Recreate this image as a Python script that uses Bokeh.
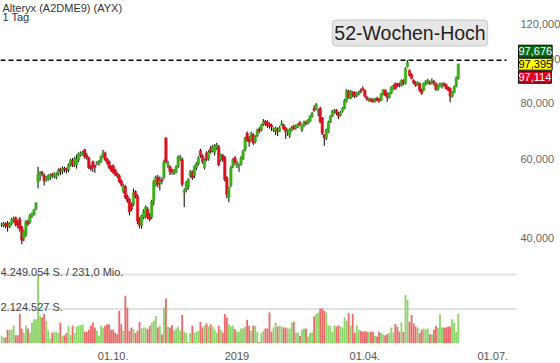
import math
from bokeh.plotting import figure
from bokeh.models import (Range1d, LinearScale, FixedTicker, Label, ColumnDataSource)
from bokeh.core.properties import value
from bokeh.embed import file_html
from bokeh.resources import INLINE

# ---- data (prices in thousand EUR, volume in million shares) ----
opens = [42.8, 42.6, 43.0, 43.1, 42.4, 43.0, 43.8, 44.3, 43.0, 44.0,
         42.3, 39.9, 40.5, 43.5, 43.3, 44.7, 45.0, 46.4, 53.2, 55.0,
         55.9, 55.1, 53.7, 54.0, 54.6, 55.4, 54.9, 54.6, 55.6, 56.9,
         56.3, 57.1, 56.9, 56.7, 58.1, 59.5, 58.0, 58.1, 59.6, 61.2,
         61.4, 62.8, 61.0, 60.3, 57.6, 59.1, 57.9, 58.6, 58.4, 59.1,
         60.6, 61.8, 59.9, 59.1, 57.6, 57.9, 56.7, 55.6, 55.0, 53.6,
         50.7, 52.0, 49.5, 48.7, 47.5, 47.5, 50.7, 49.5, 44.0, 42.6,
         44.4, 44.6, 46.3, 44.8, 44.5, 48.4, 52.5, 54.5, 53.0, 53.9,
         54.5, 66.7, 58.0, 57.6, 56.6, 55.8, 56.1, 57.6, 60.0, 59.7,
         50.5, 51.2, 51.8, 55.0, 56.1, 55.0, 57.2, 58.4, 62.5, 60.9,
         57.3, 61.8, 59.9, 63.1, 62.4, 62.0, 63.5, 63.8, 59.7, 61.0,
         60.3, 54.5, 49.2, 52.3, 57.6, 60.3, 58.0, 57.8, 58.3, 60.0,
         62.8, 68.4, 66.7, 66.0, 67.8, 65.4, 67.4, 69.8, 69.5, 71.5,
         72.7, 72.4, 71.6, 71.3, 69.5, 68.8, 69.9, 69.1, 71.2, 71.3,
         70.2, 69.1, 67.8, 69.5, 70.9, 70.2, 70.6, 72.1, 69.5, 71.0,
         72.4, 71.9, 72.7, 74.6, 77.7, 77.3, 76.1, 77.7, 73.9, 67.8,
         66.7, 68.8, 72.4, 74.6, 76.1, 76.9, 75.8, 75.0, 76.5, 77.7,
         80.5, 84.8, 81.8, 84.3, 84.3, 83.0, 83.5, 85.2, 86.0, 85.2,
         82.2, 80.8, 81.4, 81.2, 80.6, 81.8, 81.4, 81.0, 83.5, 85.2,
         83.9, 82.2, 83.9, 85.6, 88.2, 87.8, 88.2, 87.3, 89.6, 88.2,
         96.3, 94.3, 92.4, 89.6, 88.7, 87.8, 88.2, 85.6, 85.2, 87.8,
         88.7, 88.7, 88.2, 89.2, 88.2, 85.6, 86.9, 87.3, 88.2, 87.8,
         86.5, 86.0, 82.6, 84.3, 86.9, 90.6]
highs = [43.2, 43.4, 43.3, 43.6, 43.3, 44.3, 44.6, 44.6, 43.8, 44.5,
         42.6, 41.6, 43.8, 43.9, 45.2, 45.6, 46.4, 48.0, 57.6, 56.3,
         56.4, 55.6, 54.9, 55.4, 55.6, 55.8, 56.0, 55.9, 57.1, 57.3,
         57.7, 57.6, 57.3, 58.6, 60.0, 60.2, 60.6, 61.3, 62.0, 62.3,
         62.5, 63.1, 61.8, 60.6, 58.2, 59.4, 58.3, 59.3, 59.6, 61.0,
         62.8, 62.2, 60.3, 59.5, 58.0, 58.3, 57.0, 56.0, 55.4, 54.0,
         52.8, 52.4, 49.9, 49.0, 47.9, 51.5, 51.0, 50.0, 44.4, 45.0,
         46.3, 47.2, 46.8, 45.4, 48.6, 53.8, 55.0, 55.2, 54.8, 54.5,
         59.7, 67.0, 59.4, 58.0, 57.0, 56.9, 58.0, 61.0, 61.2, 60.4,
         51.5, 53.6, 54.3, 56.6, 56.5, 58.0, 59.0, 60.8, 63.1, 61.3,
         60.1, 62.3, 62.6, 64.0, 64.4, 64.7, 65.1, 64.4, 61.6, 61.5,
         60.9, 54.8, 52.0, 57.8, 60.2, 60.8, 59.4, 58.6, 60.8, 62.9,
         67.2, 69.0, 67.4, 68.9, 68.4, 67.6, 70.0, 70.5, 71.8, 73.5,
         73.2, 73.0, 72.2, 71.8, 70.4, 70.7, 70.4, 71.0, 73.0, 71.8,
         70.6, 69.9, 70.2, 71.0, 71.4, 71.5, 72.0, 72.8, 71.5, 72.9,
         73.0, 73.6, 75.0, 76.3, 78.9, 79.8, 77.5, 78.3, 74.3, 68.1,
         70.0, 72.9, 75.0, 77.0, 77.5, 77.4, 76.3, 76.6, 78.2, 81.5,
         85.7, 85.4, 85.3, 84.8, 84.8, 84.5, 84.9, 86.0, 87.0, 85.6,
         82.8, 82.0, 82.0, 81.8, 82.0, 82.4, 81.9, 84.0, 85.7, 85.7,
         84.3, 84.4, 87.0, 87.8, 88.7, 88.5, 88.7, 90.1, 90.1, 95.8,
         99.4, 94.8, 92.9, 90.1, 89.2, 89.2, 88.7, 86.0, 88.7, 89.8,
         90.4, 89.6, 90.6, 89.8, 88.7, 87.8, 88.7, 88.7, 88.7, 88.2,
         87.0, 86.5, 84.8, 87.3, 91.5, 97.7]
lows = [42.3, 42.2, 42.0, 41.3, 42.0, 42.6, 43.2, 42.4, 42.0, 41.3,
        38.7, 39.3, 40.2, 42.5, 43.0, 44.3, 44.8, 46.1, 51.5, 53.6,
        54.8, 52.3, 53.3, 53.6, 53.8, 54.3, 54.2, 54.0, 55.0, 55.1,
        55.4, 55.9, 55.6, 56.0, 57.6, 57.5, 57.5, 57.0, 59.0, 60.6,
        60.9, 60.0, 59.7, 56.9, 56.4, 56.1, 55.8, 58.0, 57.9, 58.7,
        60.2, 59.3, 58.2, 56.9, 56.0, 55.5, 54.8, 54.3, 52.9, 52.0,
        50.3, 48.8, 47.9, 44.9, 45.9, 47.1, 49.0, 42.9, 42.0, 41.9,
        44.0, 44.2, 44.0, 43.5, 44.0, 47.2, 52.0, 51.8, 51.0, 52.6,
        54.0, 58.5, 57.1, 55.2, 55.3, 55.2, 55.6, 57.2, 59.3, 52.0,
        46.8, 50.5, 51.2, 54.4, 53.8, 54.3, 56.6, 57.9, 60.3, 58.5,
        56.8, 59.2, 59.4, 61.6, 62.0, 61.0, 62.8, 57.7, 59.2, 59.0,
        53.4, 49.0, 48.0, 51.8, 57.2, 58.0, 57.2, 56.1, 57.9, 59.6,
        62.3, 65.4, 63.8, 65.5, 64.4, 64.9, 67.1, 68.4, 69.0, 71.0,
        71.0, 70.3, 70.0, 69.2, 68.8, 67.8, 67.4, 68.8, 71.0, 69.5,
        66.4, 67.4, 66.7, 69.0, 69.5, 69.6, 70.2, 71.0, 68.8, 70.5,
        71.2, 71.5, 72.3, 74.0, 76.3, 76.9, 74.6, 72.0, 67.8, 64.1,
        66.0, 68.4, 72.0, 74.2, 75.6, 75.0, 73.5, 74.5, 76.0, 77.3,
        80.0, 81.6, 81.4, 82.2, 81.8, 82.2, 83.0, 84.0, 85.0, 82.0,
        80.8, 80.3, 80.1, 79.9, 80.0, 80.4, 79.9, 80.6, 83.0, 82.6,
        80.3, 81.6, 83.5, 85.2, 85.5, 86.5, 86.5, 86.8, 87.5, 87.8,
        95.8, 91.5, 90.1, 88.0, 86.8, 87.3, 84.5, 83.2, 84.8, 87.3,
        88.0, 87.5, 87.8, 87.3, 85.0, 85.0, 86.5, 86.0, 86.8, 85.6,
        84.8, 80.1, 82.0, 83.9, 86.5, 90.0]
closes = [42.8, 43.0, 42.5, 42.4, 42.9, 43.9, 44.1, 42.8, 42.6, 41.9,
          39.5, 41.3, 43.4, 42.9, 44.9, 45.3, 46.1, 47.8, 55.3, 55.8,
          55.5, 53.6, 54.4, 55.0, 55.2, 55.1, 55.5, 55.4, 56.6, 56.2,
          57.0, 56.7, 56.5, 58.2, 59.6, 58.0, 60.0, 59.9, 61.6, 61.8,
          62.0, 60.6, 60.4, 57.3, 56.9, 57.6, 57.4, 58.9, 59.2, 60.6,
          61.8, 59.7, 58.8, 57.3, 56.5, 56.0, 55.3, 55.0, 53.4, 52.5,
          52.3, 49.2, 48.4, 45.7, 46.3, 50.4, 49.5, 43.6, 42.6, 44.8,
          45.8, 46.8, 44.5, 44.0, 48.2, 53.3, 54.5, 52.6, 53.5, 53.5,
          59.1, 59.1, 58.4, 56.1, 56.0, 56.4, 57.6, 60.6, 60.5, 52.6,
          50.9, 53.1, 53.9, 56.1, 54.5, 57.6, 58.6, 60.3, 60.9, 59.1,
          59.7, 59.7, 62.1, 62.1, 63.8, 64.1, 64.4, 58.2, 61.2, 59.7,
          53.9, 49.9, 51.6, 57.3, 59.7, 58.8, 58.8, 58.1, 60.3, 62.5,
          66.7, 66.0, 65.4, 68.4, 65.0, 67.1, 69.5, 69.2, 71.3, 72.7,
          71.6, 71.0, 70.9, 70.6, 70.0, 70.2, 69.1, 70.5, 71.8, 69.9,
          68.8, 69.5, 69.8, 70.5, 70.0, 70.9, 71.6, 71.4, 71.0, 72.4,
          71.8, 73.1, 74.6, 75.8, 76.9, 79.3, 76.5, 72.4, 68.4, 66.7,
          69.5, 72.4, 74.6, 76.5, 76.9, 75.8, 74.6, 76.1, 77.7, 81.0,
          85.2, 82.2, 84.8, 83.5, 82.6, 83.9, 84.3, 84.7, 85.6, 82.6,
          81.4, 81.4, 80.7, 80.4, 81.6, 81.0, 80.7, 83.5, 85.2, 83.1,
          82.2, 83.9, 86.5, 87.3, 86.0, 87.3, 87.3, 89.6, 88.2, 95.3,
          98.4, 92.0, 90.6, 88.7, 87.3, 88.7, 85.2, 84.0, 88.2, 89.2,
          89.6, 88.2, 89.2, 88.7, 85.6, 87.3, 88.2, 88.2, 87.3, 86.0,
          85.2, 82.6, 84.3, 86.9, 91.0, 97.4]
volumes_mio = [0.47, 0.37, 0.37, 0.84, 0.84, 0.84, 1.13, 0.51, 0.51, 1.81,
               0.92, 0.64, 1.09, 0.92, 0.68, 1.29, 1.50, 1.50, 4.249054, 1.70,
               1.60, 1.81, 1.40, 0.80, 0.31, 0.68, 0.70, 0.72, 0.64, 1.29,
               0.47, 0.51, 0.64, 1.09, 0.53, 1.09, 0.64, 1.05, 1.10, 1.13,
               1.19, 0.72, 0.72, 0.84, 1.09, 1.29, 0.99, 0.78, 0.47, 1.09,
               0.99, 1.09, 1.19, 1.19, 0.84, 0.84, 0.68, 0.57, 2.01, 1.19,
               0.78, 2.94, 2.22, 0.78, 0.99, 0.88, 0.64, 0.78, 1.33, 0.92,
               0.99, 0.99, 0.88, 1.09, 1.29, 1.40, 1.70, 0.99, 1.09, 0.57,
               2.22, 2.77, 1.03, 0.99, 1.13, 0.78, 0.92, 1.05, 0.78, 1.75,
               0.72, 0.64, 0.10, 0.64, 1.09, 0.64, 0.72, 0.78, 1.33, 0.99,
               1.13, 1.25, 1.05, 1.19, 1.05, 0.84, 0.64, 1.09, 0.84, 0.68,
               1.81, 1.60, 1.19, 1.05, 1.09, 0.88, 0.72, 0.72, 0.92, 0.92,
               1.05, 1.46, 1.09, 0.78, 1.09, 1.09, 0.72, 0.10, 0.64, 0.78,
               0.92, 0.92, 1.91, 0.72, 0.99, 1.29, 1.05, 1.09, 1.05, 0.99,
               0.99, 0.92, 0.92, 1.29, 1.33, 0.68, 0.68, 0.47, 0.84, 0.92,
               0.92, 0.43, 0.64, 0.68, 1.66, 1.81, 1.91, 2.16, 2.16, 2.00,
               1.91, 1.13, 1.09, 0.72, 1.13, 1.05, 1.13, 1.05, 0.99, 1.60,
               1.40, 1.87, 1.09, 1.81, 0.68, 1.13, 0.84, 0.78, 0.72, 0.76,
               0.72, 0.72, 0.72, 0.72, 0.47, 0.43, 0.72, 0.64, 0.57, 0.51,
               0.57, 0.64, 0.99, 0.68, 1.20, 1.05, 0.72, 1.29, 0.72, 2.98,
               2.70, 1.33, 1.75, 1.23, 1.05, 0.99, 0.64, 0.84, 0.92, 0.84,
               0.92, 0.57, 0.57, 0.84, 1.09, 0.99, 1.81, 0.99, 0.99, 0.99,
               1.05, 1.05, 1.50, 1.29, 0.72, 1.81]

tick_positions = [55, 116, 179, 242]
tick_labels = ["01.10.", "2019", "01.04.", "01.07."]
price_ticks = [40000, 60000, 80000, 100000, 120000]
price_tick_labels = ["40,000", "60,000", "80,000", "100,000", "120,000"]
vol_levels = [4249054, 2124527]
vol_level_labels = ["4.249.054 S. / 231,0 Mio.", "2.124.527 S."]
quote_values = [97676, 97395, 97114]
quote_labels = ["97,676", "97,395", "97,114"]
title_lines = ["Alteryx (A2DME9) (AYX)", "1 Tag"]
high_label = "52-Wochen-Hoch"

# ---- layout helpers (pixel positions -> data coordinates) ----
PX_PER_DAY = 2.03
FRAME_W, FRAME_H = 560.0, 343.0
X0 = -0.5
X1 = X0 + FRAME_W / PX_PER_DAY
P_TOP, P_BOT = 135030.0, 23260.0
VOL_TOP = vol_levels[0] * FRAME_H / 69.0


def px_x(px):
    return X0 + px / PX_PER_DAY


def py_price(py):
    return math.exp(math.log(P_TOP) - py / FRAME_H * (math.log(P_TOP) - math.log(P_BOT)))


FONT = "Liberation Sans"
GREEN, RED = "#3cae1a", "#de0f1e"
VGREEN, VRED = "#8dd46a", "#ea6a6c"

n = len(closes)
xs = list(range(n))
o = [v * 1000 for v in opens]
h = [v * 1000 for v in highs]
l = [v * 1000 for v in lows]
c = [v * 1000 for v in closes]
up = [cc >= oo for oo, cc in zip(o, c)]
src = ColumnDataSource(dict(
    x=xs, open=o, high=h, low=l, close=c,
    top=[max(a, b) for a, b in zip(o, c)],
    bottom=[min(a, b) for a, b in zip(o, c)],
    ccol=[GREEN if u else RED for u in up],
    vcol=[VGREEN if u else VRED for u in up],
    vol=[v * 1e6 for v in volumes_mio],
))

p = figure(width=560, height=363, y_axis_type="log", y_axis_location=None,
           x_range=Range1d(X0, X1), y_range=Range1d(P_BOT, P_TOP),
           output_backend="svg", toolbar_location=None,
           min_border_left=0, min_border_right=0, min_border_top=0, min_border_bottom=20)
p.extra_y_ranges = {"vol": Range1d(0, VOL_TOP)}
p.extra_y_scales = {"vol": LinearScale()}
p.outline_line_color = None
p.xgrid.visible = False
p.ygrid.visible = False
p.background_fill_color = "white"
p.border_fill_color = "white"

# volume grid lines (end where the plot area ends)
grid_end = px_x(516)
p.segment(x0=[X0] * len(vol_levels), x1=[grid_end] * len(vol_levels),
          y0=vol_levels, y1=vol_levels, y_range_name="vol",
          line_color="#e2e2e2", line_width=2)

# volume bars
p.vbar(x="x", top="vol", bottom=0, width=0.9, fill_color="vcol", line_color=None,
       y_range_name="vol", source=src)

# candles
p.segment(x0="x", y0="low", x1="x", y1="high", line_color="black", line_width=1, source=src)
p.vbar(x="x", top="top", bottom="bottom", width=1.15, fill_color="ccol",
       line_color="ccol", line_width=0.6, source=src)

# 52-week-high line
hi52 = max(h)
p.segment(x0=[X0], x1=[px_x(506)], y0=[hi52], y1=[hi52], line_color="black",
          line_dash="5 3", line_width=1.6)

# price scale labels (right side)
p.text(x=[px_x(520)] * len(price_ticks), y=price_ticks, text=price_tick_labels,
       text_font=value(FONT), text_font_size="11px", text_color="#666666",
       text_align="left", text_baseline="middle")

# x axis
xa = p.xaxis[0]
xa.ticker = FixedTicker(ticks=tick_positions, minor_ticks=[])
xa.major_label_overrides = {t: s for t, s in zip(tick_positions, tick_labels)}
xa.axis_line_color = None
xa.major_tick_line_color = None
xa.minor_tick_line_color = None
xa.major_label_standoff = 2
xa.major_label_text_font = FONT
xa.major_label_text_font_size = "11px"
xa.major_label_text_color = "#555555"

# title lines
for txt, py in zip(title_lines, [7, 16]):
    p.add_layout(Label(x=px_x(2), y=py_price(py), text=txt, text_font=FONT,
                       text_font_size="11px", text_color="#333333",
                       text_align="left", text_baseline="middle"))

# volume level labels
for lv, txt in zip(vol_levels, vol_level_labels):
    p.add_layout(Label(x=px_x(0), y=lv, y_range_name="vol", y_offset=2.5, text=txt,
                       text_font=FONT, text_font_size="11px", text_color="#444444",
                       text_align="left", text_baseline="alphabetic"))

# 52-Wochen-Hoch box
p.add_layout(Label(x=px_x(409.5), y=py_price(32.5), text=high_label, text_font=FONT,
                   text_font_size="19.5px", text_color="#222222", text_align="center",
                   text_baseline="middle", background_fill_color="#e6e6e6",
                   border_line_color="#c8c8c8", border_line_width=1,
                   border_radius=4, padding=2))

# quote boxes
q_styles = [("#0b6e12", "white"), ("#ffff00", "black"), ("#e0001e", "white")]
q_offsets = [13, 0, -13]
for val, txt, (bg, fg), off in zip(quote_values, quote_labels, q_styles, q_offsets):
    p.add_layout(Label(x=px_x(518), y=quote_values[1], y_offset=off, text=txt,
                       text_font=FONT, text_font_size="11px", text_color=fg,
                       text_align="left", text_baseline="middle",
                       background_fill_color=bg, border_line_color="black",
                       border_line_width=1, padding=(0, 2)))

open("out.html", "w").write(file_html(p, INLINE))
